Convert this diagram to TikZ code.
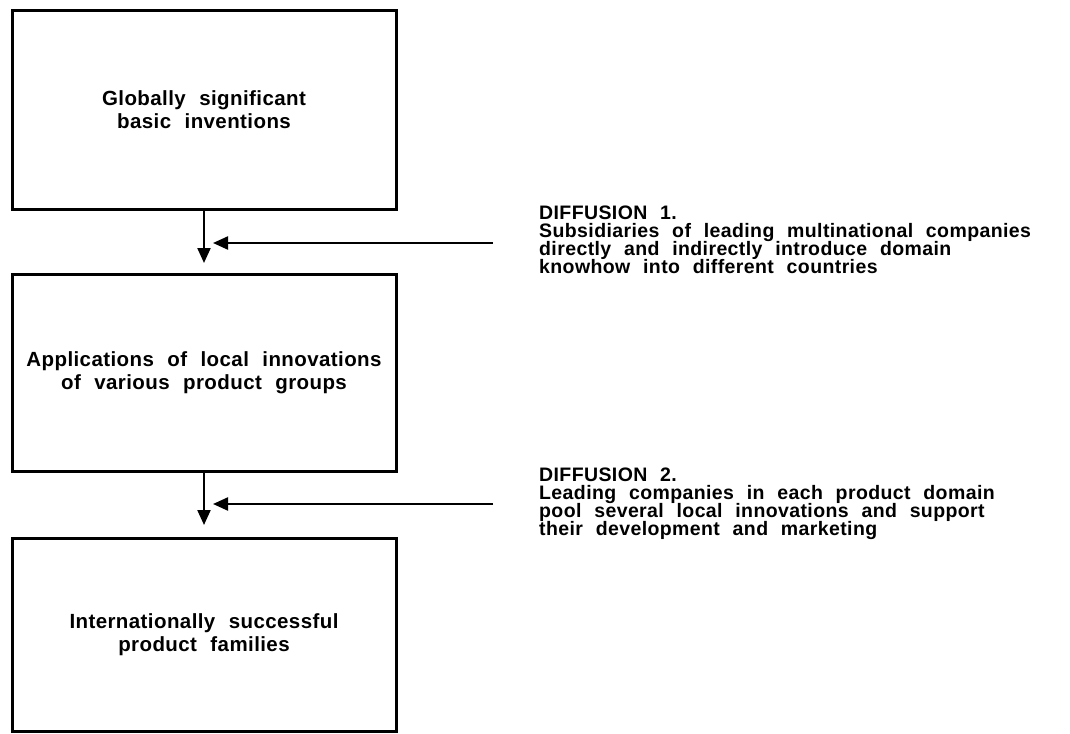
\documentclass[tikz,border=0pt]{standalone}
\usepackage{fontspec}
\setmainfont{Liberation Sans}[LetterSpace=2,WordSpace=2.2]
\usetikzlibrary{arrows.meta}

\begin{document}
\begin{tikzpicture}[x=1pt, y=-1pt,
        stage/.style={draw, line width=3pt, minimum width=384pt, align=center, inner sep=0pt,
            font=\fontsize{20.5}{23}\selectfont\bfseries},
        note/.style={anchor=north west, align=left, inner sep=0pt,
            font=\fontsize{19.5}{18}\selectfont\bfseries\setlength{\lineskiplimit}{-20pt}},
        flow/.style={line width=2.2pt, -{Triangle[length=15pt,width=13pt]}}]
        \useasboundingbox (0,0) rectangle (1070,733);
        \node (inv) at (204,110) [stage, minimum height=198pt] {Globally significant\\basic inventions};
        \node (app) at (204,372.5) [stage, minimum height=197pt] {Applications of local innovations\\of various product groups};
        \node (fam) at (204,634.5) [stage, minimum height=193pt] {Internationally successful\\product families};
        \coordinate (appin) at (204,263);
        \coordinate (famin) at (204,525);
        \draw[flow] (inv.south) -- (appin);
        \draw[flow] (app.south) -- (famin);
        \node (dif1) at (539,206) [note] {DIFFUSION 1.\\Subsidiaries of leading multinational companies\\directly and indirectly introduce domain\\knowhow into different countries};
        \node (dif2) at (539,468) [note] {DIFFUSION 2.\\Leading companies in each product domain\\pool several local innovations and support\\their development and marketing};
        \coordinate (dif1src) at (493,243);
        \coordinate (dif1tip) at (213,243);
        \coordinate (dif2src) at (493,504);
        \coordinate (dif2tip) at (213,504);
        \draw[flow] (dif1src) -- (dif1tip);
        \draw[flow] (dif2src) -- (dif2tip);
\end{tikzpicture}
\end{document}
